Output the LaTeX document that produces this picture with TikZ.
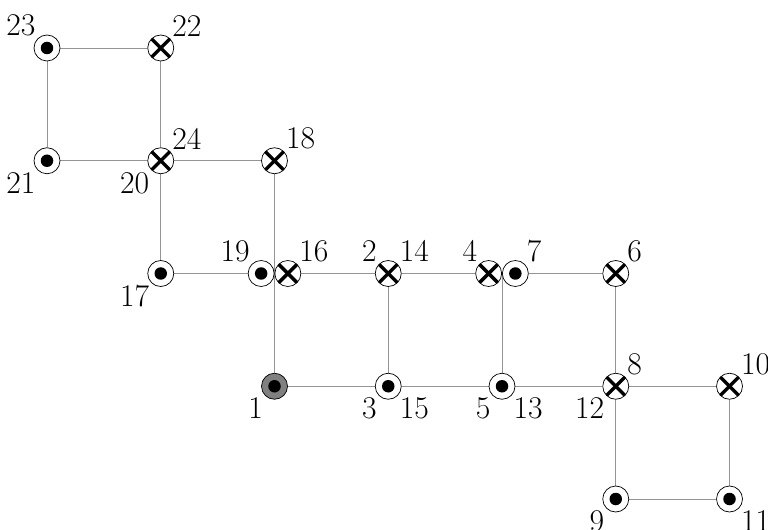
\documentclass[tikz,border=0pt]{standalone}
\usetikzlibrary{backgrounds}
\begin{document}
\begin{tikzpicture}[x=2.275cm, y=-2.255cm,
  conductor/.style={circle, draw, fill=white, inner sep=0pt, minimum size=0.52cm},
  outof/.style={conductor, path picture={\fill[black] (path picture bounding box.center) circle (0.125cm);}},
  into/.style={conductor, path picture={
      \draw[black, line width=2pt] (path picture bounding box.north west) -- (path picture bounding box.south east);
      \draw[black, line width=2pt] (path picture bounding box.north east) -- (path picture bounding box.south west);}},
  lbl/.style={inner sep=1pt, font=\fontsize{18}{21}\selectfont},
  wire/.style={draw=black!42, line width=0.55pt}]
\useasboundingbox (-0.94cm,0.96cm) rectangle (14.42cm,-9.64cm);

% top loop
\node[outof, label={[lbl]above left:23}] (n23) at (0,0) {};
\node[into,  label={[lbl]above right:22}] (n22) at (1,0) {};
\node[outof, label={[lbl]below left:21}] (n21) at (0,1) {};
\node[into,  label={[lbl]above right:24}, label={[lbl]below left:20}] (n20) at (1,1) {};
\node[into,  label={[lbl]above right:18}] (n18) at (2,1) {};

% middle row
\node[outof, label={[lbl]below left:17}] (n17) at (1,2) {};
\node[outof, anchor=east, label={[lbl]above left:19}] (n19) at (2,2) {};
\node[into,  anchor=west, label={[lbl]above right:16}] (n16) at (2,2) {};
\node[into,  label={[lbl]above left:2}, label={[lbl]above right:14}] (n2) at (3,2) {};
\node[into,  anchor=east, label={[lbl]above left:4}] (n4) at (4,2) {};
\node[outof, anchor=west, label={[lbl]above right:7}] (n7) at (4,2) {};
\node[into,  label={[lbl]above right:6}] (n6) at (5,2) {};

% bottom row
\node[outof, fill=black!50, label={[lbl]below left:1}] (n1) at (2,3) {};
\node[outof, label={[lbl]below left:3}, label={[lbl]below right:15}] (n3) at (3,3) {};
\node[outof, label={[lbl]below left:5}, label={[lbl]below right:13}] (n5) at (4,3) {};
\node[into,  label={[lbl]above right:8}, label={[lbl]below left:12}] (n8) at (5,3) {};
\node[into,  label={[lbl]above right:10}] (n10) at (6,3) {};
\node[outof, label={[lbl]below left:9}] (n9) at (5,4) {};
\node[outof, label={[lbl]below right:11}] (n11) at (6,4) {};

% wires
\begin{scope}[on background layer]
\draw[wire] (n23) -- (n22);
\draw[wire] (n23) -- (n21);
\draw[wire] (n22) -- (n20);
\draw[wire] (n21) -- (n20) -- (n18);
\draw[wire] (n20) -- (n17);
\draw[wire] (n18) -- (n1);
\draw[wire] (n17) -- (n19);
\draw[wire] (n16) -- (n2) -- (n4);
\draw[wire] (n7) -- (n6);
\draw[wire] (n2) -- (n3);
\draw[wire] (n4.east) -- (n5);
\draw[wire] (n6) -- (n8);
\draw[wire] (n1) -- (n3) -- (n5) -- (n8) -- (n10);
\draw[wire] (n8) -- (n9) -- (n11) -- (n10);
\end{scope}
\end{tikzpicture}
\end{document}
